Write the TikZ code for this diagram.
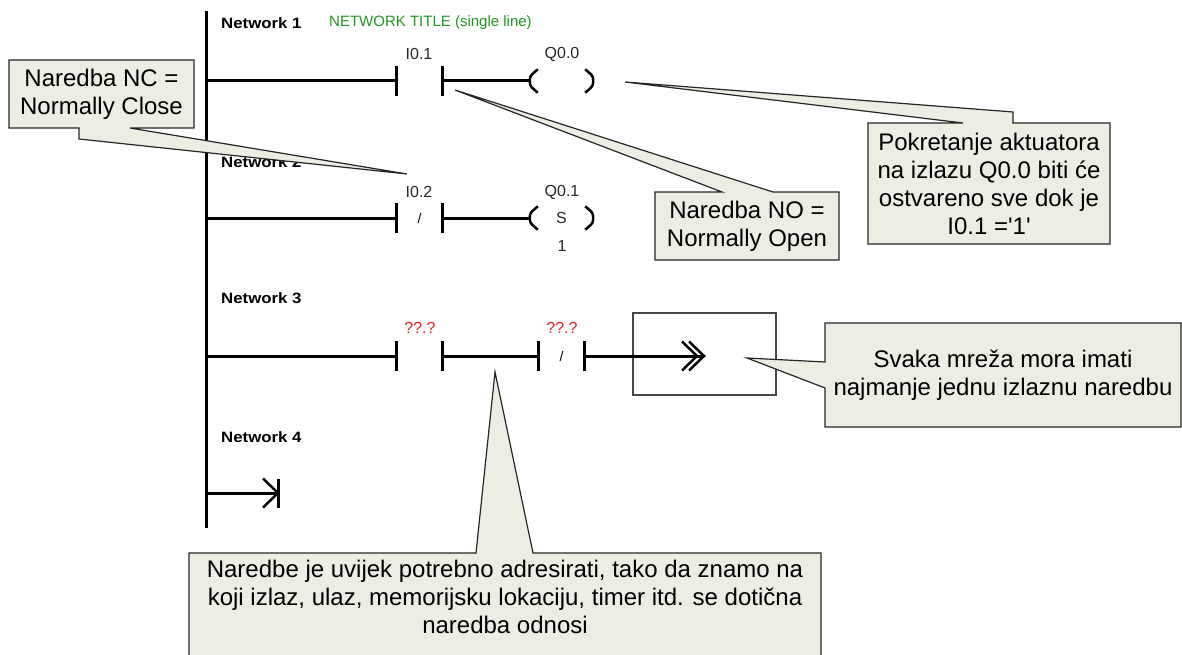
\documentclass[tikz,border=0pt]{standalone}
\usepackage{fontspec}
\setmainfont{Liberation Sans}
\newfontfamily\netfont[FakeStretch=1.12]{Liberation Sans}
\usepackage{xcolor}
\usepackage{tikz}
\usetikzlibrary{positioning}

\definecolor{notefill}{RGB}{237,237,227}
\definecolor{titlegreen}{RGB}{34,150,34}
\definecolor{addrred}{RGB}{240,30,30}
\definecolor{boxgray}{RGB}{70,70,70}

\begin{document}
\begin{tikzpicture}[x=1pt, y=-1pt,
    rung/.style={line width=3pt},
    coilline/.style={line width=2.5pt},
    contact/.style={minimum width=45pt, minimum height=30pt, inner sep=0pt,
                    font=\fontsize{14}{15}\selectfont},
    coil/.style={minimum width=63pt, minimum height=23pt, inner sep=0pt,
                 font=\fontsize{16}{18}\selectfont, text=black!85},
    netlabel/.style={font=\netfont\fontsize{15}{18}\selectfont\bfseries,
                     anchor=west, inner sep=0pt},
    addr/.style={font=\fontsize{16}{18}\selectfont, inner sep=0pt, text=black!85},
    callout/.style={draw=black!85, line width=1.2pt, fill=notefill},
    notetext/.style={font=\fontsize{24}{28}\selectfont, align=center, inner sep=0pt}
]
    \clip (0,0) rectangle (1182,655);

    % Rail
    \coordinate (railtop) at (206,11);
    \coordinate (railbot) at (206,528);
    \draw[rung] (railtop) -- (railbot);

    % Network 1
    \node[netlabel] (net1) at (221,23) {Network 1};
    \node[anchor=west, inner sep=0pt, text=titlegreen,
          font=\fontsize{15}{18}\selectfont] (title1) at (329,23) {NETWORK TITLE (single line)};
    \coordinate (r1) at (206,81);
    \node[contact] (i01) at (419.5,81) {};
    \node[coil] (q00) at (561.5,81) {};
    \node[addr] (li01) at (419,54) {I0.1};
    \node[addr] (lq00) at (562,54) {Q0.0};
    \draw[rung] (r1) -- (i01.west) (i01.east) -- (q00.west);

    % Network 2
    \node[netlabel] (net2) at (221,162) {Network 2};
    \coordinate (r2) at (206,218);
    \node[contact] (i02) at (419.5,218) {/};
    \node[coil] (q01) at (561.5,218) {S};
    \node[addr] (li02) at (419,192) {I0.2};
    \node[addr] (lq01) at (562,192) {Q0.1};
    \node[addr] (n01) at (562,246) {1};
    \draw[rung] (r2) -- (i02.west) (i02.east) -- (q01.west);

    % Network 3
    \node[netlabel] (net3) at (221,298) {Network 3};
    \coordinate (r3) at (206,356);
    \node[contact] (c31) at (419.5,356) {};
    \node[contact] (c32) at (561.5,356) {/};
    \node[addr, text=addrred] (a31) at (420,328) {??.?};
    \node[addr, text=addrred] (a32) at (562,328) {??.?};
    \node[draw=boxgray, line width=1.5pt, minimum width=143pt,
          minimum height=82pt] (endbox) at (704.5,354) {};
    \coordinate (tip3) at (704,356);
    \draw[rung] (r3) -- (c31.west) (c31.east) -- (c32.west) (c32.east) -- (tip3);
    \draw[coilline] (tip3) ++(-15,-14.5) -- (tip3) -- ++(-15,14.5);
    \draw[coilline] ([xshift=-7pt]tip3) ++(-15,-14.5) -- ([xshift=-7pt]tip3) -- ++(-15,14.5);

    % Network 4
    \node[netlabel] (net4) at (221,437) {Network 4};
    \coordinate (r4) at (206,493);
    \coordinate (end4) at (278,493);
    \draw[rung] (r4) -- (end4);
    \draw[rung] (end4) ++(0,-14.5) -- ++(0,29);
    \draw[coilline] (end4) ++(-15,-14.5) -- (end4) -- ++(-15,14.5);

    % contact bars and coil brackets
    \foreach \c in {i01,i02,c31,c32} {
        \draw[rung] (\c.north west) -- (\c.south west) (\c.north east) -- (\c.south east);
    }
    \foreach \q in {q00,q01} {
        \draw[coilline, rounded corners=3pt] ([xshift=8pt]\q.north west) -- ([yshift=-7pt]\q.north west)
            -- ([yshift=7pt]\q.south west) -- ([xshift=8pt]\q.south west);
        \draw[coilline, rounded corners=3pt] ([xshift=-8pt]\q.north east) -- ([yshift=-7pt]\q.north east)
            -- ([yshift=7pt]\q.south east) -- ([xshift=-8pt]\q.south east);
    }

    % Callouts
    \coordinate (nctip) at (407,174);
    \draw[callout] (9,60) -- (194,60) -- (194,128) -- (130,128) -- (nctip)
        -- (79,139) -- (79,128) -- (9,128) -- cycle;
    \node[notetext] (nc) at (101.5,94) {Naredba NC =\\Normally Close};

    \coordinate (notip) at (455,90);
    \draw[callout] (655,192) -- (722,192) -- (notip) -- (773,192) -- (839,192)
        -- (839,260) -- (655,260) -- cycle;
    \node[notetext] (no) at (747,226) {Naredba NO =\\Normally Open};

    \coordinate (acttip) at (625,82);
    \draw[callout] (868,123) -- (963,123) -- (acttip) -- (1013,112) -- (1013,123)
        -- (1110,123) -- (1110,244) -- (868,244) -- cycle;
    \node[notetext] (act) at (989,183.5) {Pokretanje aktuatora\\na izlazu Q0.0 biti će\\ostvareno sve dok je\\I0.1 =\textquotesingle 1\textquotesingle};

    \coordinate (outtip) at (747,358);
    \draw[callout] (825,323) -- (1181,323) -- (1181,427) -- (825,427) -- (825,388)
        -- (outtip) -- (825,362) -- cycle;
    \node[notetext] (out) at (1003,375) {Svaka mreža mora imati\\najmanje jednu izlaznu naredbu};

    \coordinate (addrtip) at (495,372);
    \draw[callout] (189,553) -- (476,553) -- (addrtip) -- (533,553) -- (821,553)
        -- (821,670) -- (189,670) -- cycle;
    \node[notetext] (addrnote) at (505,597) {Naredbe je uvijek potrebno adresirati, tako da znamo na\\koji izlaz, ulaz, memorijsku lokaciju, timer itd. se dotična\\naredba odnosi};

\end{tikzpicture}
\end{document}
